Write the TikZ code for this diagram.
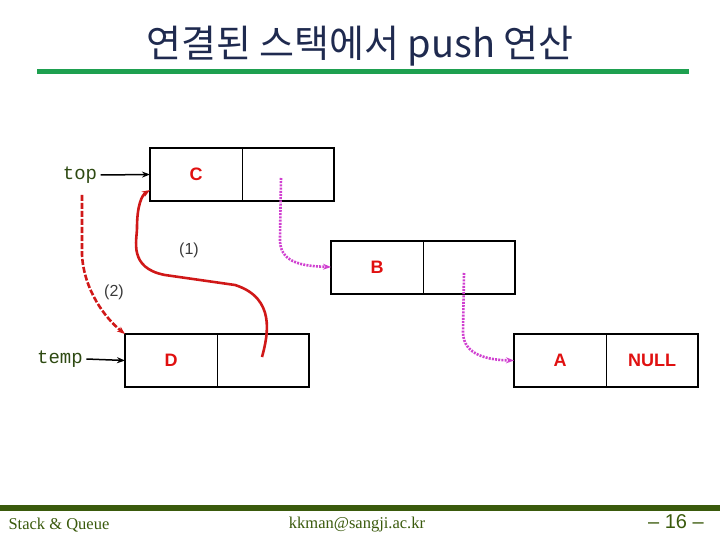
\documentclass[tikz,border=0pt]{standalone}
\usepackage{fontspec}
\setmainfont{Liberation Serif}
\setsansfont{Liberation Sans}
\setmonofont{Liberation Mono}
\newfontfamily\krfont{Noto Sans CJK KR}
\usetikzlibrary{arrows.meta,positioning,calc}
\definecolor{titletxt}{HTML}{1F2A4F}
\definecolor{rulegreen}{HTML}{1EA050}
\definecolor{footgreen}{HTML}{3A5A0C}
\definecolor{vartxt}{HTML}{2E4A12}
\definecolor{valred}{HTML}{E01010}
\definecolor{linkred}{HTML}{D01818}
\definecolor{linkmag}{HTML}{D040D0}
\definecolor{steptxt}{HTML}{3A3A3A}

\begin{document}
\begin{tikzpicture}[
  x=1pt, y=-1pt, >={Stealth[length=8pt,width=6pt]},
  fld/.style={draw, line width=1pt, outer sep=0pt, minimum width=92pt, minimum height=53pt,
    inner sep=0pt, text=valred, font=\sffamily\bfseries\fontsize{18}{20}\selectfont},
  box/.style={line width=2pt},
  var/.style={text=vartxt, font=\ttfamily\fontsize{19}{20}\selectfont},
  lbl/.style={text=steptxt, font=\sffamily\fontsize{16}{18}\selectfont},
  relink/.style={->, draw=linkred, line width=2.6pt},
  maglink/.style={->, draw=linkmag, line width=2.6pt, dash pattern=on 2pt off 1.2pt},
  foot/.style={text=footgreen, font=\fontsize{16.5}{18}\selectfont},
]
\useasboundingbox (0,0) rectangle (720,540);
% title
\node[text=titletxt, font=\krfont\fontsize{38}{42}\selectfont] (title) at (360,46) {연결된 스택에서 push 연산};
\draw[rulegreen, line width=5pt] (37,72) -- (689,72);
% list nodes
\node[fld] (cdata) at (196,174.5) {C};
\node[fld, right=0pt of cdata] (clink) {};
\node[fld] (bdata) at (377,267) {B};
\node[fld, right=0pt of bdata] (blink) {};
\node[fld] (ddata) at (171,360.5) {D};
\node[fld, right=0pt of ddata] (dlink) {};
\node[fld] (adata) at (560,360.5) {A};
\node[fld, right=0pt of adata] (alink) {NULL};
\foreach \n in {c,b,d,a}
  \draw[box] (\n data.north west) rectangle (\n link.south east);
% pointer variables
\node[var] (top) at (80,175) {top};
\node[var] (temp) at (60,359) {temp};
\draw[->, line width=1.5pt] (top.east) -- (cdata.west);
\draw[->, line width=1.5pt] (temp.east) -- (ddata.west);
% links
\coordinate (dptr) at (262,357);
\coordinate (cptr) at (281,178);
\coordinate (bptr) at (464,273);
\coordinate (tsrc) at (82,195);
\draw[maglink] (cptr) -- (280,238) .. controls (279,262) and (300,266) .. (bdata.west);
\draw[maglink] (bptr) -- (463,332) .. controls (463,356) and (490,360) .. (adata.west);
\draw[relink] (dptr) .. controls (268,335) and (276,298) .. (235,285) -- (165,275)
  .. controls (128,268) and (137,240) .. (137,228)
  .. controls (137,205) and (142,195) .. ([yshift=11pt]cdata.south west);
\draw[relink, dash pattern=on 6pt off 2pt] (tsrc) -- (82,255) .. controls (84,290) and (105,318) .. (ddata.north west);
\node[lbl] (one) at (189,250) {(1)};
\node[lbl] (two) at (114,292) {(2)};
% footer
\draw[footgreen, line width=6pt] (0,508) -- (720,508);
\node[foot, anchor=west] (subj) at (5,525) {Stack \& Queue};
\node[foot] (mail) at (357,525) {kkman@sangji.ac.kr};
\node[foot, font=\sffamily\fontsize{20}{22}\selectfont] (page) at (676,522) {– 16 –};
\end{tikzpicture}
\end{document}
